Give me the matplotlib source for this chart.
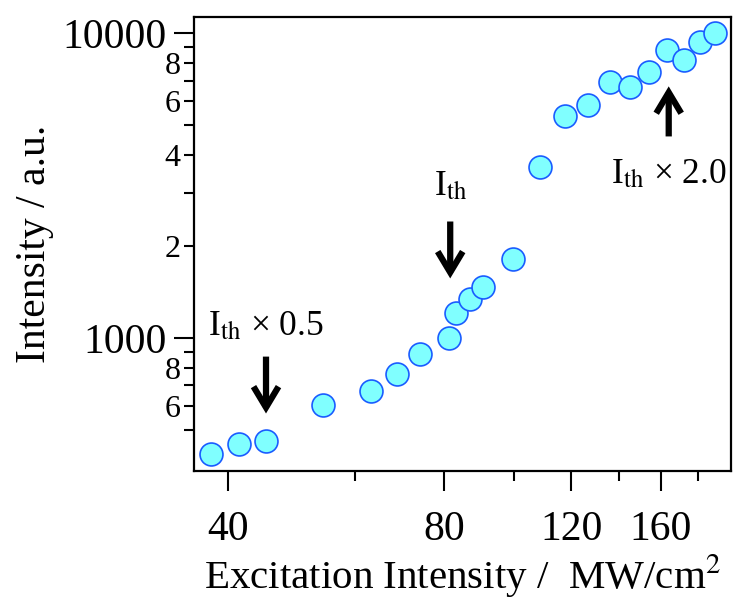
import numpy as np
import matplotlib.pyplot as plt

plt.rcParams['font.family'] = ['Liberation Serif', 'DejaVu Serif']
plt.rcParams['mathtext.fontset'] = 'stix'

# excitation intensity (MW/cm^2) and emission intensity (a.u.)
excitation = [37.9, 41.5, 45.2, 54.2, 63.3, 68.7, 74.1, 81.3, 83.1, 86.7, 90.5,
              99.5, 108.5, 117.7, 126.5, 135.9, 144.9, 153.9, 162.9, 172.0, 181.0, 190.3]
intensity = [417, 450, 460, 603, 671, 762, 888, 1005, 1211, 1348, 1471,
             1825, 3643, 5367, 5801, 6904, 6648, 7470, 8841, 8166, 9342, 10050]

x_major = [40, 80, 120, 160]
x_minor = [60, 100, 140, 180]
y_major = [1000, 10000]
y_minor = [500, 600, 700, 800, 900, 2000, 3000, 4000, 5000, 6000, 7000, 8000, 9000]
y_minor_labels = ['', '6', '', '8', '', '2', '', '4', '', '6', '', '8', '']

# annotations: (label, text x, text y, arrow start y, arrow end y)
annotations = [
    (r'I$_{\mathrm{th}}$ × 0.5', 45.2, 1025, 870, 566),
    (r'I$_{\mathrm{th}}$', 81.5, 2955, 2414, 1570),
    (r'I$_{\mathrm{th}}$ × 2.0', 164.0, 3235, 4590, 6700),
]

fig = plt.figure(figsize=(7.33, 6.05), dpi=100)
ax = fig.add_axes([0.2647, 0.222, 0.7322, 0.7504])

ax.plot(excitation, intensity, 'o', ls='none', ms=16.5,
        mfc='#80ffff', mec='#1a5cff', mew=1.2)

ax.set_xscale('log')
ax.set_yscale('log')
ax.set_xlim(35.9, 200)
ax.set_ylim(367.5, 11340)

ax.set_xticks(x_major, labels=[str(v) for v in x_major])
ax.set_xticks(x_minor, labels=['' for v in x_minor], minor=True)
ax.set_yticks(y_major, labels=[str(v) for v in y_major])
ax.set_yticks(y_minor, labels=y_minor_labels, minor=True)

ax.tick_params(which='major', direction='out', length=14.5, width=1.5)
ax.tick_params(which='minor', direction='out', length=7.5, width=1.5)
ax.tick_params(axis='x', which='major', labelsize=30, pad=14)
ax.tick_params(axis='y', which='major', labelsize=30, pad=5)
ax.tick_params(axis='y', which='minor', labelsize=23, pad=2)
for s in ax.spines.values():
    s.set_linewidth(1.6)

ax.set_xlabel(r'Excitation Intensity /  MW/cm$^2$', fontsize=29.5, labelpad=2)
ax.set_ylabel('Intensity / a.u.', fontsize=30, labelpad=6)

for label, tx, ty, y0, y1 in annotations:
    ax.text(tx, ty, label, fontsize=25.5, ha='center', va='baseline')
    ax.annotate('', xy=(tx, y1), xytext=(tx, y0),
                arrowprops=dict(arrowstyle='->,head_length=0.75,head_width=0.45',
                                mutation_scale=20, color='black', lw=4.5,
                                shrinkA=0, shrinkB=0,
                                joinstyle='miter', capstyle='butt'))

fig.savefig('out.png', dpi=100)
